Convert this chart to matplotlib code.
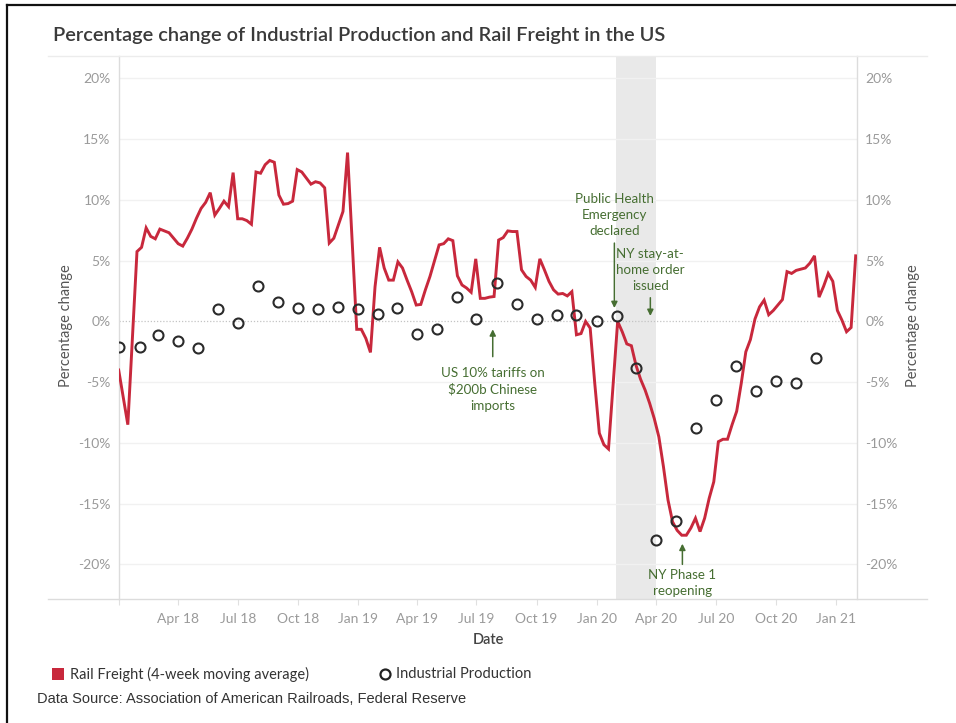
import pandas as pd
import matplotlib.pyplot as plt
import matplotlib.dates as mdates
from matplotlib.lines import Line2D
from matplotlib.patches import Rectangle

plt.rcParams['font.family'] = ['Lato', 'DejaVu Sans']

# Industrial Production, monthly % change
ip_dates = pd.date_range('2018-01-01', periods=36, freq='MS')
ip_values = [-2.1, -2.1, -1.15, -1.6, -2.2, 1.0, -0.1, 2.9, 1.6, 1.1, 1.0, 1.2,
             1.0, 0.6, 1.1, -1.05, -0.6, 2.0, 0.2, 3.15, 1.4, 0.2, 0.55, 0.5,
             0.0, 0.45, -3.85, -18.0, -16.4, -8.8, -6.5, -3.7, -5.7, -4.9, -5.05, -3.0]

# Rail freight, 4-week moving average (weekly)
rail_dates = pd.to_datetime([
    '2017-12-31', '2018-01-14', '2018-01-28', '2018-02-04', '2018-02-11', '2018-02-18',
    '2018-02-25', '2018-03-04', '2018-03-11', '2018-03-18', '2018-03-25', '2018-04-01',
    '2018-04-08', '2018-04-15', '2018-04-22', '2018-04-29', '2018-05-06', '2018-05-13',
    '2018-05-20', '2018-05-27', '2018-06-03', '2018-06-10', '2018-06-17', '2018-06-24',
    '2018-07-01', '2018-07-08', '2018-07-15', '2018-07-22', '2018-07-29', '2018-08-05',
    '2018-08-12', '2018-08-19', '2018-08-26', '2018-09-02', '2018-09-09', '2018-09-16',
    '2018-09-23', '2018-09-30', '2018-10-07', '2018-10-14', '2018-10-21', '2018-10-28',
    '2018-11-04', '2018-11-11', '2018-11-18', '2018-11-25', '2018-12-02', '2018-12-09',
    '2018-12-16', '2018-12-30',
    '2019-01-06', '2019-01-13', '2019-01-20', '2019-01-27', '2019-02-03', '2019-02-10',
    '2019-02-17', '2019-02-24', '2019-03-03', '2019-03-10', '2019-03-17', '2019-03-24',
    '2019-03-31', '2019-04-07', '2019-04-14', '2019-04-21', '2019-05-05', '2019-05-12',
    '2019-05-19', '2019-05-26', '2019-06-02', '2019-06-09', '2019-06-16', '2019-06-23',
    '2019-06-30', '2019-07-07', '2019-07-14', '2019-07-21', '2019-07-28', '2019-08-04',
    '2019-08-11', '2019-08-18', '2019-08-25', '2019-09-01', '2019-09-08', '2019-09-15',
    '2019-09-22', '2019-09-29', '2019-10-06', '2019-10-13', '2019-10-20', '2019-10-27',
    '2019-11-03', '2019-11-10', '2019-11-17', '2019-11-24', '2019-12-01', '2019-12-08',
    '2019-12-15', '2019-12-22', '2019-12-29',
    '2020-01-05', '2020-01-12', '2020-01-19', '2020-02-02', '2020-02-09', '2020-02-16',
    '2020-02-23', '2020-03-01', '2020-03-08', '2020-03-15', '2020-03-22', '2020-03-29',
    '2020-04-05', '2020-04-12', '2020-04-19', '2020-04-26', '2020-05-03', '2020-05-10',
    '2020-05-17', '2020-05-24', '2020-05-31', '2020-06-07', '2020-06-14', '2020-06-21',
    '2020-06-28', '2020-07-05', '2020-07-12', '2020-07-19', '2020-07-26', '2020-08-02',
    '2020-08-09', '2020-08-16', '2020-08-23', '2020-08-30', '2020-09-06', '2020-09-13',
    '2020-09-20', '2020-09-27', '2020-10-04', '2020-10-11', '2020-10-18', '2020-10-25',
    '2020-11-01', '2020-11-08', '2020-11-15', '2020-11-22', '2020-11-29', '2020-12-06',
    '2020-12-13', '2020-12-20', '2020-12-27',
    '2021-01-03', '2021-01-10', '2021-01-17', '2021-01-24', '2021-01-31'])
rail_values = [
    -4.0, -8.5, 5.75, 6.1, 7.7, 7.0, 6.8, 7.6, 7.45, 7.3, 6.85, 6.4, 6.2, 6.85, 7.6,
    8.5, 9.3, 9.8, 10.6, 8.75, 9.3, 9.9, 9.45, 12.25, 8.45, 8.45, 8.3, 8.0, 12.3, 12.2,
    12.9, 13.25, 13.1, 10.4, 9.65, 9.7, 9.9, 12.5, 12.3, 11.8, 11.3, 11.5, 11.4, 11.0,
    6.45, 6.85, 7.95, 9.05, 13.9, -0.65,
    -0.65, -1.4, -2.55, 2.85, 6.1, 4.4, 3.4, 3.4, 4.9, 4.4, 3.4, 2.45, 1.35, 1.4, 2.6,
    3.7, 6.3, 6.4, 6.8, 6.65, 3.75, 3.0, 2.75, 2.4, 5.15, 1.9, 1.9, 2.0, 2.05, 6.7,
    6.9, 7.45, 7.4, 7.4, 4.25, 3.7, 3.4, 2.8, 5.15, 4.25, 3.3, 2.6, 2.25, 2.3, 2.1,
    2.45, -1.1, -1.0, 0.0, -0.55, -5.1,
    -9.2, -10.15, -10.5, 0.0, -0.85, -1.85, -2.0, -3.6, -4.75, -5.65, -6.75, -8.0,
    -9.5, -11.95, -14.7, -16.5, -17.2, -17.6, -17.6, -17.0, -16.2, -17.3, -16.2, -14.55,
    -13.2, -9.9, -9.7, -9.7, -8.5, -7.4, -5.1, -2.5, -1.5, 0.2, 1.2, 1.75, 0.55, 0.9,
    1.35, 1.8, 4.1, 3.95, 4.2, 4.3, 4.4, 4.8, 5.4, 2.0, 2.9, 3.95, 3.3,
    0.9, 0.1, -0.85, -0.5, 5.4]

yticks = [20, 15, 10, 5, 0, -5, -10, -15, -20]
xticks = pd.date_range('2018-01-01', '2021-01-01', freq='QS')
xlabels = [''] + [d.strftime('%b %y') for d in xticks[1:]]

RED = '#c8283c'
GREEN = '#466e32'
GREY = '#9a9a9a'

fig = plt.figure(figsize=(9.56, 7.23), dpi=100)
W, H = 956, 723


def fx(px):
    return px / W


def fy(py):
    return 1 - py / H


ax = fig.add_axes([fx(119), fy(599), fx(857) - fx(119), fy(56) - fy(599)])
ax.set_xlim(pd.Timestamp('2017-12-31 12:00'), pd.Timestamp('2021-02-02'))
ax.set_ylim(-22.85, 21.85)

# shaded covid period
ax.axvspan(pd.Timestamp('2020-01-31'), pd.Timestamp('2020-04-01'), color='#e9e9e9', lw=0, zorder=0)

for v in yticks:
    if v == 0:
        ax.axhline(0, color='#c4c4c4', lw=0.9, ls=(0, (1, 1.5)), zorder=1)
    else:
        ax.axhline(v, color='#f1f1f1', lw=1.0, zorder=1)

ax.plot(rail_dates, rail_values, color=RED, lw=2.1, zorder=3, solid_joinstyle='miter')
ax.plot(ip_dates, ip_values, ls='none', marker='o', ms=7.2, mfc='none', mec='#2b2b2b', mew=1.5, zorder=4)

ax.set_yticks(yticks)
ax.set_yticklabels([f'{v}%' for v in yticks])
ax.set_xticks(xticks)
ax.set_xticklabels(xlabels)
ax.tick_params(axis='y', length=0, pad=6, labelsize=10, labelcolor=GREY)
ax.tick_params(axis='x', length=4, color='#e0e0e0', pad=6, labelsize=10, labelcolor=GREY)
for s in ['top', 'bottom']:
    ax.spines[s].set_visible(False)
for s in ['left', 'right']:
    ax.spines[s].set_color('#dcdcdc')
    ax.spines[s].set_linewidth(1.0)

ax2 = ax.twinx()
ax2.set_ylim(ax.get_ylim())
ax2.set_yticks(yticks)
ax2.set_yticklabels([f'{v}%' for v in yticks])
ax2.tick_params(axis='y', length=0, pad=6, labelsize=10, labelcolor=GREY)
for s in ax2.spines.values():
    s.set_visible(False)

# annotations
ann = dict(color=GREEN, fontsize=9.6, ha='center', va='center', linespacing=1.42)
arw = dict(arrowstyle='-|>', color=GREEN, lw=1.1, mutation_scale=9, shrinkA=0, shrinkB=0)
ax.text(pd.Timestamp('2020-01-28'), 8.75, 'Public Health\nEmergency\ndeclared', **ann)
ax.annotate('', xy=(pd.Timestamp('2020-01-28'), 1.1), xytext=(pd.Timestamp('2020-01-28'), 6.45), arrowprops=arw)
ax.text(pd.Timestamp('2020-03-23'), 4.25, 'NY stay-at-\nhome order\nissued', **ann)
ax.annotate('', xy=(pd.Timestamp('2020-03-23'), 0.45), xytext=(pd.Timestamp('2020-03-23'), 1.95), arrowprops=arw)
ax.text(pd.Timestamp('2019-07-26'), -5.6, 'US 10% tariffs on\n$200b Chinese\nimports', **ann)
ax.annotate('', xy=(pd.Timestamp('2019-07-26'), -0.65), xytext=(pd.Timestamp('2019-07-26'), -2.9), arrowprops=arw)
ax.text(pd.Timestamp('2020-05-11'), -21.5, 'NY Phase 1\nreopening', **ann)
ax.annotate('', xy=(pd.Timestamp('2020-05-11'), -18.3), xytext=(pd.Timestamp('2020-05-11'), -20.0), arrowprops=arw)

# pane borders extending past the axes
fig.add_artist(Line2D([fx(48), fx(927)], [fy(56), fy(56)], color='#ececec', lw=1.0))
fig.add_artist(Line2D([fx(48), fx(927)], [fy(599), fy(599)], color='#dcdcdc', lw=1.0))
# outer frame (top and left)
fig.add_artist(Line2D([fx(7), 1], [fy(5), fy(5)], color='#111111', lw=1.6))
fig.add_artist(Line2D([fx(7), fx(7)], [fy(5), 0], color='#111111', lw=1.6))

fig.text(fx(53), fy(36), 'Percentage change of Industrial Production and Rail Freight in the US',
         fontsize=14.4, color='#3a3a3a', va='center', ha='left', fontweight='semibold')
fig.text(fx(66), fy(326), 'Percentage change', rotation=90, fontsize=10.5, color='#555555',
         ha='center', va='center')
fig.text(fx(913), fy(326), 'Percentage change', rotation=90, fontsize=10.5, color='#555555',
         ha='center', va='center')
fig.text(fx(488), fy(640), 'Date', fontsize=10.5, color='#444444', ha='center', va='center',
         fontweight='semibold')

# legend
fig.add_artist(Rectangle((fx(52), fy(680)), fx(64) - fx(52), fy(668) - fy(680), color=RED, lw=0))
fig.text(fx(70), fy(674), 'Rail Freight (4-week moving average)', fontsize=10.5, color='#333333', va='center')
fig.add_artist(Line2D([fx(385)], [fy(674)], ls='none', marker='o', ms=7.2, mfc='none', mec='#222222', mew=1.6))
fig.text(fx(396), fy(674), 'Industrial Production', fontsize=10.5, color='#333333', va='center')
fig.text(fx(37), fy(699), 'Data Source: Association of American Railroads, Federal Reserve',
         fontsize=10.5, color='#333333', va='center', family=['Liberation Sans', 'DejaVu Sans'])

fig.savefig('out.png', dpi=100)
